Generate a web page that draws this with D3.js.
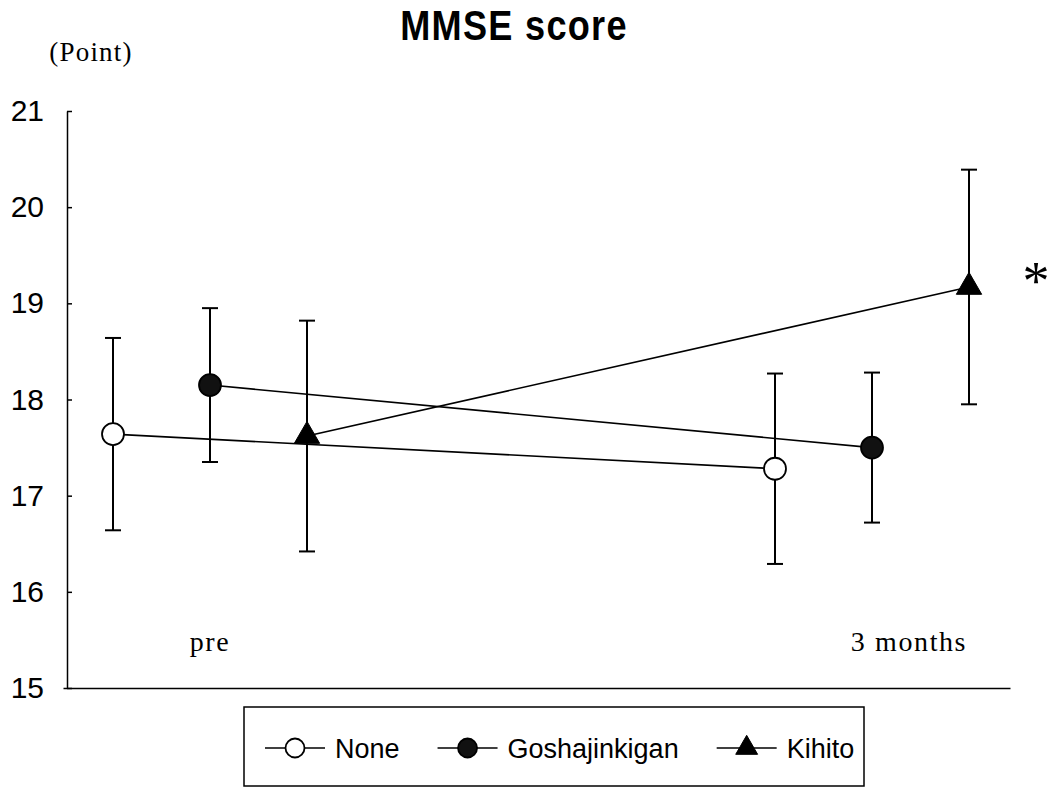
<!DOCTYPE html>
<html>
<head>
<meta charset="utf-8">
<script src="https://cdn.jsdelivr.net/npm/d3@7"></script>
<style>
body{margin:0;background:#fff;}
</style>
</head>
<body>
<script>
// data
const groups=["None","Goshajinkigan","Kihito"];
const timepoints=["pre","3 months"];
const noneMean=[17.64,17.28];
const noneErr=[1.0,0.99];
const goshaMean=[18.15,17.50];
const goshaErr=[0.80,0.78];
const kihitoMean=[17.62,19.17];
const kihitoErr=[1.20,1.22];
const yTicks=[15,16,17,18,19,20,21];

const w=1054,h=787;
const series=[
  {name:groups[0],mean:noneMean,err:noneErr,shape:"open"},
  {name:groups[1],mean:goshaMean,err:goshaErr,shape:"dot"},
  {name:groups[2],mean:kihitoMean,err:kihitoErr,shape:"tri"}
];

const svg=d3.select("body").append("svg").attr("width",w).attr("height",h)
  .style("font-family","'Liberation Sans',Arial,sans-serif");

//scales
const yScale=d3.scaleLinear().domain([15,21]).range([688,111]);
const xTime=d3.scalePoint().domain(timepoints).range([210,872]);
const xGroup=d3.scalePoint().domain(groups).range([-97,97]);
const xPos=(s,i)=>xTime(timepoints[i])+xGroup(s.name);

//title (condensed look)
svg.append("text").attr("transform","translate(514,40) scale(0.86,1)").attr("text-anchor","middle")
  .attr("font-size",42).attr("font-weight","bold").attr("letter-spacing",1.5)
  .text("MMSE score");
svg.append("text").attr("x",91).attr("y",61).attr("text-anchor","middle")
  .attr("font-family","'Liberation Serif','DejaVu Serif',serif").attr("font-size",27).attr("letter-spacing",1.2)
  .text("(Point)");

//axes
const yAxis=d3.axisLeft(yScale).tickValues(yTicks).tickFormat(d3.format("d"))
  .tickSizeInner(-5).tickSizeOuter(0).tickPadding(23);
const gy=svg.append("g").attr("transform","translate(67,0)").call(yAxis);
gy.selectAll("text").attr("font-size",30).attr("font-family","'Liberation Sans',Arial,sans-serif").attr("fill","#000");
gy.selectAll("line,path").attr("stroke","#000").attr("stroke-width",1.5);

const xLine=d3.scaleLinear().range([63,1010]);
const gx=svg.append("g").attr("transform","translate(0,688)").call(d3.axisBottom(xLine).ticks(0).tickSizeOuter(0));
gx.select("path").attr("stroke","#000").attr("stroke-width",1.5);

//time labels
const labelDx=[0,37];
svg.selectAll(".tlab").data(timepoints).enter().append("text")
  .attr("class","tlab")
  .attr("x",(d,i)=>xTime(d)+labelDx[i]).attr("y",651).attr("text-anchor","middle")
  .attr("font-family","'Liberation Serif','DejaVu Serif',serif").attr("font-size",28).attr("letter-spacing",1.6)
  .text(d=>d);

//lines
const line=d3.line().x(d=>d[0]).y(d=>d[1]);
svg.selectAll(".conn").data(series).enter().append("path")
  .attr("class","conn")
  .attr("d",s=>line(s.mean.map((m,i)=>[xPos(s,i),yScale(m)])))
  .attr("fill","none").attr("stroke","#000").attr("stroke-width",1.6);

//error bars
const pts=series.flatMap(s=>s.mean.map((m,i)=>({s:s,i:i,m:m,e:s.err[i],x:xPos(s,i)})));
const eb=svg.selectAll(".eb").data(pts).enter().append("g").attr("class","eb")
  .attr("stroke","#000").attr("stroke-width",2);
eb.append("line").attr("x1",d=>d.x).attr("x2",d=>d.x).attr("y1",d=>yScale(d.m-d.e)).attr("y2",d=>yScale(d.m+d.e));
eb.append("line").attr("x1",d=>d.x-8).attr("x2",d=>d.x+8).attr("y1",d=>yScale(d.m+d.e)).attr("y2",d=>yScale(d.m+d.e));
eb.append("line").attr("x1",d=>d.x-8).attr("x2",d=>d.x+8).attr("y1",d=>yScale(d.m-d.e)).attr("y2",d=>yScale(d.m-d.e));

//markers
function marker(g,shape,r){
  if(shape==="tri"){
    g.append("path").attr("d",d3.symbol().type(d3.symbolTriangle).size(r*r*2.3)())
      .attr("fill","#000").attr("stroke","#000").attr("stroke-width",1);
  }else{
    g.append("circle").attr("r",r).attr("fill",shape==="open"?"#fff":"#111")
      .attr("stroke","#000").attr("stroke-width",1.8);
  }
}
svg.selectAll(".mk").data(pts).enter().append("g").attr("class","mk")
  .attr("transform",d=>"translate("+d.x+","+yScale(d.m)+")")
  .each(function(d){marker(d3.select(this),d.s.shape,11);});

//significance mark
svg.append("text").attr("x",1036).attr("y",299).attr("text-anchor","middle")
  .attr("font-family","'Liberation Serif',serif").attr("font-size",54).text("*");

//legend
const lg=svg.append("g");
lg.append("rect").attr("x",244).attr("y",707).attr("width",620).attr("height",79)
  .attr("fill","none").attr("stroke","#000").attr("stroke-width",1.5);
let lx=265;
series.forEach(s=>{
  const it=lg.append("g").attr("transform","translate("+lx+",748)");
  it.append("line").attr("x1",0).attr("x2",60).attr("stroke","#000").attr("stroke-width",1.6);
  const m=it.append("g").attr("transform","translate(30,0)");
  marker(m,s.shape,9.5);
  const t=it.append("text").attr("x",70).attr("y",10).attr("font-size",27).text(s.name);
  lx+=70+t.node().getComputedTextLength()+38;
});
</script>
</body>
</html>
